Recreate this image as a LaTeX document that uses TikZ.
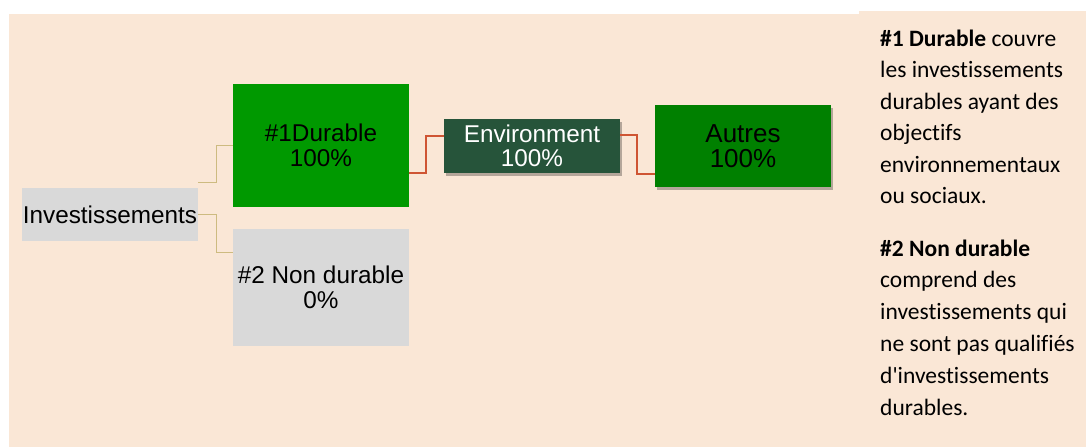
\documentclass[tikz,border=0pt]{standalone}
\usepackage{fontspec}
\setmainfont{Liberation Sans}
\newfontfamily\carl[RawFeature={-liga;-clig;-dlig;-calt}]{Carlito}
\usetikzlibrary{shadows}
\definecolor{peach}{HTML}{FAE7D6}
\definecolor{boxgray}{HTML}{D9D9D9}
\definecolor{durgreen}{HTML}{009900}
\definecolor{envgreen}{HTML}{26543A}
\definecolor{autgreen}{HTML}{008000}
\definecolor{tanline}{HTML}{CDBB80}
\definecolor{redline}{HTML}{CF5533}
\newcommand\myti{t\kern0pt i}
\begin{document}
\begin{tikzpicture}[x=1pt,y=-1pt,
  nodebox/.style={draw=none, inner sep=0pt, align=center, minimum width=176pt,
    font=\fontsize{24.3}{24.5}\selectfont},
  shadowed/.style={drop shadow={shadow xshift=2pt, shadow yshift=-3pt, opacity=0.28, fill=black}},
  tanconn/.style={draw=tanline, line width=1.2pt},
  redconn/.style={draw=redline, line width=1.5pt},
  rtext/.style={inner sep=0pt, anchor=base west, font=\carl\fontsize{23.5}{31.7}\selectfont}
]
\useasboundingbox (0,0) rectangle (1086,447);
\fill[white] (0,0) rectangle (1086,447);
\fill[peach] (9,14) rectangle (859,447);
\fill[peach] (859,11) rectangle (1086,447);

\node[nodebox, fill=boxgray, minimum height=53pt] (inv) at (110,214.5) {Investissements};
\node[nodebox, fill=durgreen, minimum height=123pt] (dur) at (321,145.5) {\#1Durable\\100\%};
\node[nodebox, fill=boxgray, minimum height=117pt] (nd) at (321,287.5) {\#2 Non durable\\0\%};
\node[nodebox, fill=envgreen, text=white, minimum height=54pt, shadowed] (env) at (532,146) {Environment\\100\%};
\node[nodebox, fill=autgreen, minimum height=82pt, shadowed, font=\fontsize{26}{25.5}\selectfont] (aut) at (743,146) {Autres\\100\%};

\draw[tanconn] ([yshift=5pt]inv.north east) -- ++(18,0) |- (dur.west);
\draw[tanconn] (inv.east) -- ++(18,0) |- ([yshift=-24pt]nd.north west);
\draw[redconn] ([yshift=-27.5pt]dur.east) -- ++(17,0) |- ([yshift=10pt]env.west);
\draw[redconn] ([yshift=11pt]env.east) -- ++(17,0) |- ([yshift=-28pt]aut.west);

\node[rtext] (a1) at (880,46) {\bfseries\#1 Durable\mdseries{} couvre};
\node[rtext] (a2) at (880,77.5) {les inves\myti ssements};
\node[rtext] (a3) at (880,109) {durables ayant des};
\node[rtext] (a4) at (880,140.5) {objec\myti fs};
\node[rtext] (a5) at (880,172) {environnementaux};
\node[rtext] (a6) at (880,203.5) {ou sociaux.};
\node[rtext] (b1) at (880,256) {\bfseries\#2 Non durable};
\node[rtext] (b2) at (880,287.8) {comprend des};
\node[rtext] (b3) at (880,319.6) {inves\myti ssements qui};
\node[rtext] (b4) at (880,351.4) {ne sont pas qualifiés};
\node[rtext] (b5) at (880,383.2) {d'inves\myti ssements};
\node[rtext] (b6) at (880,415) {durables.};
\end{tikzpicture}
\end{document}
